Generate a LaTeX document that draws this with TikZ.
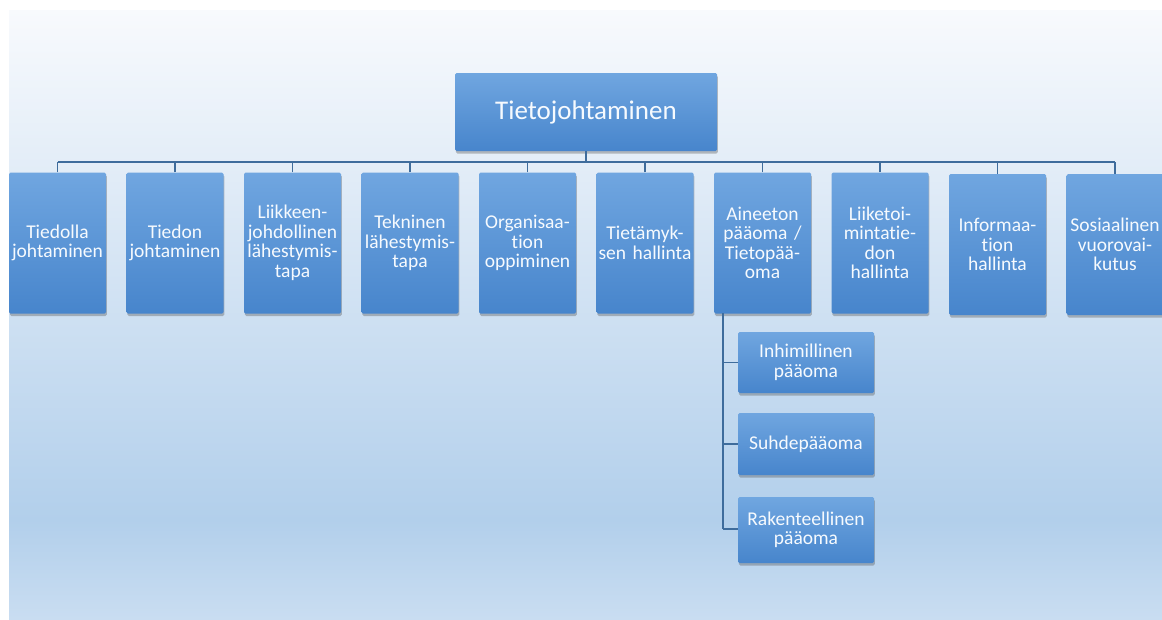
\documentclass[tikz,border=0pt]{standalone}
\usepackage{fontspec}
\setmainfont{Carlito}[Ligatures={NoCommon}]
\usetikzlibrary{shadows}
\definecolor{boxtop}{RGB}{112,166,224}
\definecolor{boxbot}{RGB}{71,133,204}
\definecolor{linec}{RGB}{62,108,156}
\definecolor{bgtop}{RGB}{248,250,253}
\definecolor{bgmid}{RGB}{178,207,235}
\definecolor{bgbot}{RGB}{201,221,241}
\definecolor{txt}{RGB}{246,250,254}
\tikzset{
  boxbase/.style={rectangle, rounded corners=1.5pt, draw=none, align=center, text=txt,
    top color=boxtop, bottom color=boxbot, inner sep=1pt,
    drop shadow={shadow xshift=0.8pt, shadow yshift=-2.5pt, opacity=0.35, fill=black!70}},
  topbox/.style={boxbase, minimum width=262pt, minimum height=78pt, font=\fontsize{27}{30}\selectfont},
  rowbox/.style={boxbase, minimum width=97pt, minimum height=141pt, text width=95pt, font=\fontsize{19.5}{19.5}\selectfont},
  subbox/.style={boxbase, minimum width=136pt, text width=134pt, font=\fontsize{19.5}{19.5}\selectfont},
  conn/.style={draw=linec, line width=1.3pt}
}
\begin{document}
\begin{tikzpicture}[x=1pt,y=-1pt]
\useasboundingbox (0,0) rectangle (1162,619);
\fill[white] (0,0) rectangle (1162,619);
\shade[top color=bgtop, bottom color=bgmid] (9,10) rectangle (1162,520);
\shade[top color=bgmid, bottom color=bgbot] (9,519.5) rectangle (1162,619);

\coordinate (hl) at (57.5,162);
\coordinate (hr) at (1115,162);
\coordinate (hm) at (586,162);

\node[topbox] (top) at (586,112) {Tietojohtaminen};

\node[rowbox] (b1) at (57.5,243) {Tiedolla\\johtaminen};
\node[rowbox] (b2) at (175,243) {Tiedon\\johtaminen};
\node[rowbox] (b3) at (292.5,243) {Liikkeen-\\johdollinen\\lähestymis-\\tapa};
\node[rowbox] (b4) at (410,243) {Tekninen\\lähestymis-\\tapa};
\node[rowbox] (b5) at (527.5,243) {Organisaa-\\tion\\oppiminen};
\node[rowbox] (b6) at (645,243) {Tietämyk-\\sen hallinta};
\node[rowbox] (b7) at (762.5,243) {Aineeton\\pääoma /\\Tietopää-\\oma};
\node[rowbox] (b8) at (880,243) {Liiketoi-\\mintatie-\\don\\hallinta};
\node[rowbox] (b9) at (997.5,244.5) {Informaa-\\tion\\hallinta};
\node[rowbox] (b10) at (1115,244.5) {Sosiaalinen\\vuorovai-\\kutus};

\node[subbox, minimum height=61pt] (s1) at (806,362.5) {Inhimillinen\\pääoma};
\node[subbox, minimum height=62pt] (s2) at (806,444) {Suhdepääoma};
\node[subbox, minimum height=66pt] (s3) at (806,530) {Rakenteellinen\\pääoma};

\coordinate (vt) at (723,313);
\coordinate (vb) at (723,529);

\draw[conn] (top.south) -- (hm);
\draw[conn] (hl) -- (hr);
\foreach \b in {b1,b2,b3,b4,b5,b6,b7,b8,b9,b10}{
  \draw[conn] (\b.north) -- (\b.north |- hl);
}
\draw[conn] (vt) -- (vb);
\draw[conn] (vt |- s1.west) -- (s1.west);
\draw[conn] (vt |- s2.west) -- (s2.west);
\draw[conn] (vb) -- (s3.west |- vb);
\end{tikzpicture}
\end{document}
